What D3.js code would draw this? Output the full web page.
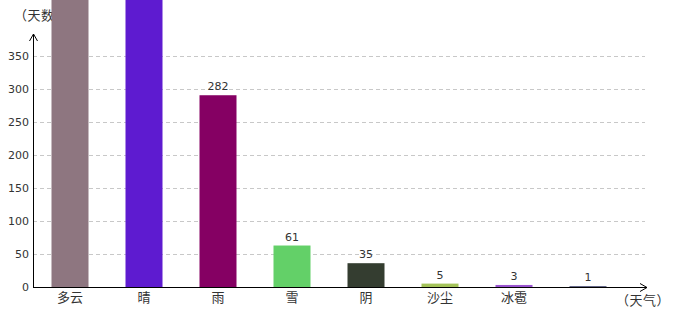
<!DOCTYPE html>
<html lang="zh">
<head>
<meta charset="UTF-8">
<title>天气统计</title>
<script src="https://d3js.org/d3.v7.min.js"></script>
<style>
  body { margin: 0; background: #fff; }
  text { font-family: "Noto Sans CJK SC", "DejaVu Sans", sans-serif; }
</style>
</head>
<body>
<div id="chart"></div>
<script>
const categories = ["多云", "晴", "雨", "雪", "阴", "沙尘", "冰雹", ""];
const days = [520, 480, 282, 61, 35, 5, 3, 1];
const colors = ["#8e7680", "#5e1bd0", "#850063", "#63d068", "#343d30", "#a4c35a", "#9a55d0", "#1d2150"];
const yTicks = [0, 50, 100, 150, 200, 250, 300, 350];

const W = 680, H = 320;
const x0 = 33, x1 = 625, axisEnd = 647, y0 = 287;

const svg = d3.select("#chart").append("svg")
  .attr("width", W).attr("height", H);

const x = d3.scaleBand().domain(d3.range(categories.length)).range([x0, x1])
  .paddingInner(0.5).paddingOuter(0.25);
const y = d3.scaleLinear().domain([0, 350]).range([y0, 56]);
// bars in the original sit a bit taller than the grid
const yBar = d3.scaleLinear().domain([0, 350]).range([y0, y0 - 238]);

// grid
svg.append("g").selectAll("line").data(yTicks.slice(1)).join("line")
  .attr("x1", x0).attr("x2", axisEnd - 2)
  .attr("y1", d => y(d) + 0.5).attr("y2", d => y(d) + 0.5)
  .attr("stroke", "#c8c8c8").attr("stroke-dasharray", "4,3");

// y tick labels
svg.append("g").selectAll("text").data(yTicks).join("text")
  .attr("x", 29).attr("y", d => y(d) + 4)
  .attr("text-anchor", "end").attr("font-size", 11).attr("fill", "#333")
  .style("font-family", "DejaVu Sans, sans-serif")
  .text(d => d);

// y title (drawn under bars)
svg.append("text").attr("x", 14).attr("y", 20)
  .attr("font-size", 13).attr("fill", "#333").attr("letter-spacing", 0.5).text("（天数");

// bars
svg.append("g").selectAll("rect").data(days).join("rect")
  .attr("x", (d, i) => x(i)).attr("width", x.bandwidth())
  .attr("y", d => yBar(d)).attr("height", d => y0 - yBar(d))
  .attr("fill", (d, i) => colors[i]);

// value labels (only those inside the view)
svg.append("g").selectAll("text").data(days.map((d, i) => ({ d, i })).filter(o => yBar(o.d) > 20)).join("text")
  .attr("x", o => x(o.i) + x.bandwidth() / 2)
  .attr("y", o => yBar(o.d) - 5)
  .attr("text-anchor", "middle").attr("font-size", 11).attr("fill", "#333")
  .style("font-family", "DejaVu Sans, sans-serif")
  .text(o => o.d);

// axes with arrows
svg.append("line").attr("x1", x0 + 0.5).attr("x2", x0 + 0.5).attr("y1", y0).attr("y2", 34)
  .attr("stroke", "#000");
svg.append("path").attr("d", `M${x0 - 3.5},${41} L${x0 + 0.5},${34} L${x0 + 4.5},${41}`)
  .attr("fill", "none").attr("stroke", "#000");
svg.append("line").attr("x1", x0).attr("x2", axisEnd).attr("y1", y0 + 0.5).attr("y2", y0 + 0.5)
  .attr("stroke", "#000");
svg.append("path").attr("d", `M${axisEnd - 7},${y0 - 3.5} L${axisEnd},${y0 + 0.5} L${axisEnd - 7},${y0 + 4.5}`)
  .attr("fill", "none").attr("stroke", "#000");

// category labels
svg.append("g").selectAll("text").data(categories).join("text")
  .attr("x", (d, i) => x(i) + x.bandwidth() / 2).attr("y", 302)
  .attr("text-anchor", "middle").attr("font-size", 13).attr("fill", "#333")
  .text(d => d);

svg.append("text").attr("x", 616).attr("y", 305)
  .attr("font-size", 13).attr("fill", "#333").attr("letter-spacing", 0.5).text("（天气）");
</script>
</body>
</html>
